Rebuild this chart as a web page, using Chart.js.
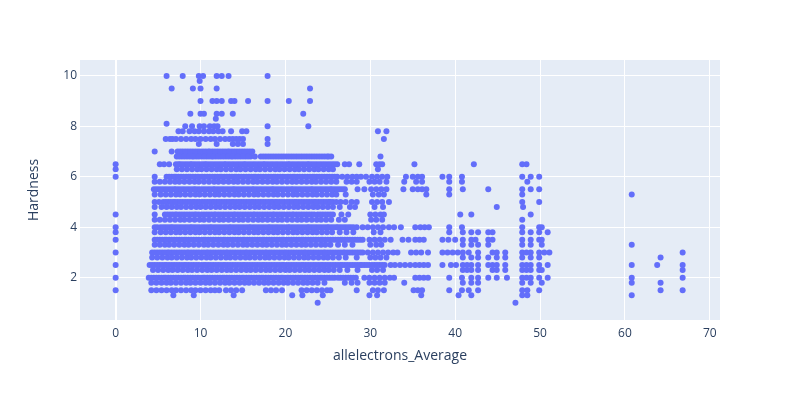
<!DOCTYPE html>
<html>
<head>
<meta charset="utf-8">
<script src="https://cdn.jsdelivr.net/npm/chart.js@4.4.1/dist/chart.umd.min.js"></script>
<style>
html,body{margin:0;padding:0;background:#fff;}
canvas{display:block;}
</style>
</head>
<body>
<canvas id="c" width="800" height="400"></canvas>
<script>
// Tick labels
const xTickValues = [0, 10, 20, 30, 40, 50, 60, 70];
const yTickValues = [2, 4, 6, 8, 10];

// Hardness levels and the allelectrons_Average values read at each level
const hardnessLevels = [10, 9.8, 9.5, 9.0, 8.5, 8.3, 8.1, 8.0, 7.8, 7.5, 7.3, 7.0, 6.8, 6.5, 6.3, 6.0, 5.8, 5.5, 5.3, 5.0, 4.8, 4.5, 4.3, 4.0, 3.8, 3.5, 3.3, 3.0, 2.8, 2.5, 2.3, 2.0, 1.8, 1.5, 1.3, 1.0];

const x_10_0 = [6.0, 7.9, 9.8, 10.3, 11.9, 12.5, 13.3, 17.9];
const x_9_8 = [9.9];
const x_9_5 = [6.6, 9.1, 10.0, 11.9, 22.9];
const x_9_0 = [10.0, 11.4, 11.9, 12.5, 13.6, 14.0, 15.6, 17.9, 20.4, 22.9];
const x_8_5 = [8.8, 10.0, 10.4, 11.9, 12.5, 13.8, 22.1];
const x_8_3 = [11.8];
const x_8_1 = [6.0];
const x_8_0 = [8.2, 9.0, 9.9, 10.4, 11.1, 11.6, 12.0, 17.9, 22.7];
const x_7_8 = [7.4, 7.9, 8.7, 9.3, 9.8, 10.4, 11.0, 11.5, 12.1, 12.6, 13.6, 14.9, 15.4, 30.9, 31.9];
const x_7_5 = [5.9, 6.4, 6.7, 7.1, 7.7, 8.3, 8.9, 9.4, 10.0, 10.6, 11.2, 11.7, 12.3, 12.9, 13.4, 13.8, 14.2, 14.6, 15.0, 17.9, 31.6];
const x_7_3 = [9.8, 11.9, 13.8, 14.4, 15.0, 17.9];
const x_7_0 = [4.6, 6.6, 7.3, 7.9, 8.5, 9.1, 9.7, 10.3, 10.9, 11.4, 12.0, 12.6, 13.2, 13.7, 14.3, 14.9, 15.5, 16.1];
const x_6_8 = [7.2, 7.8, 8.4, 9.0, 9.5, 10.1, 10.7, 11.3, 11.8, 12.4, 13.0, 13.6, 14.1, 14.7, 15.3, 15.9, 16.4, 17.1, 17.7, 18.3, 18.9, 19.5, 20.1, 20.7, 21.3, 21.9, 22.5, 23.1, 23.7, 24.3, 24.9, 25.4, 31.2];
const x_6_5 = [0, 5.2, 5.7, 6.3, 7.1, 7.6, 8.2, 8.8, 9.3, 9.9, 10.5, 11.0, 11.6, 12.2, 12.8, 13.3, 13.9, 14.5, 15.1, 15.6, 16.2, 16.8, 17.4, 17.9, 18.5, 19.1, 19.7, 20.3, 20.8, 21.4, 22.0, 22.6, 23.1, 23.7, 24.3, 24.9, 25.5, 26.1, 27.0, 27.5, 28.7, 30.7, 31.1, 31.4, 35.2, 42.2, 47.9, 48.4];
const x_6_3 = [0, 7.2, 7.8, 8.4, 9.0, 9.6, 10.1, 10.7, 11.3, 11.9, 12.4, 13.0, 13.6, 14.2, 14.7, 15.3, 15.9, 16.5, 17.0, 17.6, 18.2, 18.8, 19.3, 19.9, 20.5, 21.1, 21.6, 22.2, 22.8, 23.4, 23.9, 24.5, 25.1, 25.6, 30.9];
const x_6_0 = [0, 4.6, 6.0, 6.6, 7.1, 7.7, 8.3, 8.8, 9.4, 10.0, 10.5, 11.1, 11.7, 12.3, 12.8, 13.4, 14.0, 14.5, 15.1, 15.7, 16.3, 16.8, 17.4, 18.0, 18.6, 19.1, 19.7, 20.3, 20.9, 21.4, 22.0, 22.6, 23.2, 23.7, 24.3, 24.9, 25.5, 26.1, 26.7, 27.3, 27.9, 28.4, 28.9, 29.5, 30.2, 30.8, 31.4, 32.0, 34.2, 35.0, 35.6, 36.1, 38.5, 39.3, 40.8, 47.9, 48.9, 49.9];
const x_5_8 = [4.6, 5.2, 5.8, 6.4, 7.0, 7.5, 8.1, 8.7, 9.3, 9.8, 10.4, 11.0, 11.6, 12.1, 12.7, 13.3, 13.9, 14.4, 15.0, 15.6, 16.2, 16.7, 17.3, 17.9, 18.5, 19.0, 19.6, 20.2, 20.8, 21.3, 21.9, 22.5, 23.1, 23.6, 24.2, 24.8, 25.4, 26.0, 27.2, 27.8, 28.4, 29.9, 30.5, 31.1, 31.9, 34.0, 35.4, 36.1, 39.3, 40.8, 48.5];
const x_5_5 = [4.5, 5.1, 5.7, 6.3, 6.9, 7.4, 8.0, 8.6, 9.2, 9.7, 10.3, 10.9, 11.5, 12.0, 12.6, 13.2, 13.8, 14.3, 14.9, 15.5, 16.1, 16.6, 17.2, 17.8, 18.4, 18.9, 19.5, 20.1, 20.7, 21.2, 21.8, 22.4, 23.0, 23.5, 24.1, 24.7, 25.3, 25.8, 26.4, 27.0, 28.5, 29.3, 30.1, 30.7, 31.3, 31.9, 33.9, 35.0, 35.6, 36.1, 36.6, 39.3, 40.9, 43.9, 47.9, 48.9, 49.9];
const x_5_3 = [4.6, 5.3, 5.9, 6.5, 7.1, 7.6, 8.2, 8.8, 9.4, 9.9, 10.5, 11.1, 11.7, 12.2, 12.8, 13.4, 14.0, 14.5, 15.1, 15.7, 16.3, 16.8, 17.4, 18.0, 18.6, 19.1, 19.7, 20.3, 20.9, 21.4, 22.0, 22.6, 23.2, 23.7, 24.3, 24.9, 25.5, 26.0, 27.1, 30.3, 31.0, 31.6, 36.6, 39.3, 47.9, 60.8];
const x_5_0 = [4.6, 5.6, 6.2, 6.8, 7.3, 7.9, 8.5, 9.1, 9.6, 10.2, 10.8, 11.4, 11.9, 12.5, 13.1, 13.7, 14.2, 14.8, 15.4, 16.0, 16.5, 17.1, 17.7, 18.3, 18.8, 19.3, 19.9, 20.5, 21.1, 21.6, 22.2, 22.8, 23.4, 23.9, 24.5, 25.1, 25.6, 26.5, 27.1, 27.8, 28.4, 30.2, 30.8, 31.4, 32.2, 47.9, 49.9];
const x_4_8 = [4.6, 5.4, 6.0, 6.6, 7.2, 7.7, 8.3, 8.9, 9.5, 10.0, 10.6, 11.2, 11.8, 12.3, 12.9, 13.5, 14.1, 14.6, 15.2, 15.8, 16.4, 16.9, 17.5, 18.1, 18.7, 19.2, 19.8, 20.4, 21.0, 21.5, 22.1, 22.7, 23.3, 23.8, 24.4, 25.0, 25.6, 26.4, 27.6, 28.2, 30.5, 31.5, 44.9, 48.0];
const x_4_5 = [0, 4.6, 5.8, 6.4, 7.0, 7.5, 8.1, 8.7, 9.3, 9.8, 10.4, 11.0, 11.6, 12.1, 12.7, 13.3, 13.9, 14.4, 15.0, 15.6, 16.2, 16.7, 17.3, 17.9, 18.5, 19.0, 19.6, 20.2, 20.8, 21.3, 21.9, 22.5, 23.1, 23.8, 24.4, 25.0, 25.6, 26.6, 27.4, 30.0, 30.6, 31.2, 31.6, 40.6, 41.9, 48.9];
const x_4_3 = [4.6, 5.2, 5.8, 6.4, 7.0, 7.6, 8.1, 8.7, 9.3, 9.9, 10.4, 11.0, 11.6, 12.2, 12.7, 13.3, 13.9, 14.5, 15.0, 15.6, 16.2, 16.8, 17.3, 17.9, 18.5, 19.1, 19.6, 20.2, 20.8, 21.4, 21.9, 22.5, 23.1, 23.7, 24.2, 24.8, 25.4, 26.3, 27.0, 30.1, 30.7, 31.4, 47.9];
const x_4_0 = [0, 4.6, 5.3, 5.9, 6.5, 7.0, 7.6, 8.2, 8.8, 9.3, 9.9, 10.5, 11.1, 11.6, 12.2, 12.8, 13.4, 13.9, 14.5, 15.1, 15.7, 16.2, 16.8, 17.4, 18.0, 18.5, 19.1, 19.7, 20.3, 20.8, 21.4, 22.0, 22.6, 23.1, 23.7, 24.3, 24.9, 25.4, 26.0, 26.5, 27.1, 27.7, 28.4, 29.1, 29.7, 30.3, 30.9, 31.5, 32.2, 32.8, 33.6, 35.3, 35.9, 36.4, 36.9, 39.3, 40.8, 47.9, 49.9, 50.2];
const x_3_8 = [0, 4.6, 5.3, 5.9, 6.5, 7.1, 7.6, 8.2, 8.8, 9.4, 9.9, 10.5, 11.1, 11.7, 12.2, 12.8, 13.4, 14.0, 14.5, 15.1, 15.7, 16.3, 16.8, 17.4, 18.0, 18.6, 19.1, 19.7, 20.3, 20.9, 21.4, 22.0, 22.6, 23.2, 23.7, 24.3, 24.9, 25.5, 26.4, 27.2, 28.0, 30.4, 31.2, 39.3, 40.9, 41.9, 42.7, 43.9, 44.4, 47.9, 48.9, 49.9, 50.9];
const x_3_5 = [0, 4.6, 5.2, 5.8, 6.3, 6.9, 7.5, 8.1, 8.6, 9.2, 9.8, 10.4, 10.9, 11.5, 12.1, 12.7, 13.2, 13.8, 14.4, 15.0, 15.5, 16.1, 16.7, 17.3, 17.8, 18.4, 19.0, 19.6, 20.1, 20.7, 21.3, 21.9, 22.4, 23.0, 23.6, 24.2, 24.7, 25.3, 25.9, 26.5, 27.0, 27.6, 28.2, 28.8, 29.1, 29.9, 30.5, 31.1, 31.7, 32.4, 33.8, 34.5, 35.3, 35.8, 36.3, 38.5, 39.2, 40.0, 40.9, 41.9, 42.4, 43.9, 44.4, 47.9, 48.9, 49.9, 50.2];
const x_3_3 = [4.6, 5.2, 5.8, 6.3, 6.9, 7.5, 8.1, 8.6, 9.2, 9.8, 10.4, 10.9, 11.5, 12.1, 12.7, 13.2, 13.8, 14.4, 15.0, 15.5, 16.1, 16.7, 17.3, 17.8, 18.4, 19.0, 19.6, 20.1, 20.7, 21.3, 21.9, 22.4, 23.0, 23.6, 24.2, 24.7, 25.3, 26.2, 27.0, 27.9, 30.0, 30.7, 31.3, 40.9, 41.9, 42.7, 43.9, 47.9, 48.9, 50.2, 60.8];
const x_3_0 = [0, 4.3, 4.9, 5.5, 6.1, 6.6, 7.2, 7.8, 8.4, 8.9, 9.5, 10.1, 10.7, 11.2, 11.8, 12.4, 13.0, 13.5, 14.1, 14.7, 15.3, 15.8, 16.4, 17.0, 17.6, 18.1, 18.7, 19.3, 19.9, 20.4, 21.0, 21.6, 22.2, 22.7, 23.3, 23.9, 24.5, 25.0, 25.6, 26.2, 26.8, 27.3, 27.9, 28.5, 29.1, 29.7, 30.3, 30.9, 31.5, 32.1, 32.7, 33.2, 34.8, 35.4, 36.0, 36.8, 38.5, 39.1, 39.7, 40.3, 40.9, 41.6, 42.7, 44.4, 44.9, 45.9, 47.9, 48.4, 48.9, 49.9, 50.5, 51.1, 66.8];
const x_2_8 = [4.3, 4.9, 5.5, 6.1, 6.6, 7.2, 7.8, 8.4, 8.9, 9.5, 10.1, 10.7, 11.2, 11.8, 12.4, 13.0, 13.5, 14.1, 14.7, 15.3, 15.8, 16.4, 17.0, 17.6, 18.1, 18.7, 19.3, 19.9, 20.4, 21.0, 21.6, 22.2, 22.7, 23.3, 23.9, 24.5, 25.0, 25.6, 26.3, 27.1, 28.4, 30.0, 30.6, 31.2, 31.9, 40.9, 41.9, 42.7, 43.9, 44.9, 45.9, 47.9, 48.9, 49.9, 64.2];
const x_2_5 = [0, 4.0, 4.6, 5.2, 5.8, 6.3, 6.9, 7.5, 8.1, 8.6, 9.2, 9.8, 10.4, 10.9, 11.5, 12.1, 12.7, 13.2, 13.8, 14.4, 15.0, 15.5, 16.1, 16.7, 17.3, 17.8, 18.4, 19.0, 19.6, 20.1, 20.7, 21.3, 21.9, 22.4, 23.0, 23.6, 24.2, 24.7, 25.3, 25.9, 26.5, 27.0, 27.6, 28.2, 28.8, 29.3, 29.9, 30.5, 31.1, 31.7, 32.4, 32.9, 33.5, 34.1, 34.7, 35.3, 35.8, 36.3, 36.8, 38.5, 39.5, 40.1, 40.9, 41.4, 41.9, 42.7, 43.9, 44.4, 44.9, 45.9, 47.9, 48.4, 48.9, 49.9, 50.9, 60.8, 63.8, 66.8];
const x_2_3 = [4.4, 5.0, 5.6, 6.2, 6.7, 7.3, 7.9, 8.5, 9.0, 9.6, 10.2, 10.8, 11.3, 11.9, 12.5, 13.1, 13.6, 14.2, 14.8, 15.4, 15.9, 16.5, 17.1, 17.7, 18.2, 18.8, 19.4, 20.0, 20.5, 21.1, 21.7, 22.3, 22.8, 23.4, 24.0, 24.6, 25.1, 25.7, 26.4, 27.3, 28.5, 30.2, 30.8, 31.5, 40.9, 41.4, 41.9, 42.7, 44.4, 44.9, 45.9, 47.9, 48.4, 48.9, 49.9, 50.2, 66.8];
const x_2_0 = [0, 3.9, 4.5, 5.1, 5.7, 6.2, 6.8, 7.4, 8.0, 8.5, 9.1, 9.7, 10.3, 10.8, 11.4, 12.0, 12.6, 13.1, 13.7, 14.3, 14.9, 15.4, 16.0, 16.6, 17.2, 17.7, 18.3, 18.9, 19.5, 20.0, 20.6, 21.2, 21.8, 22.3, 22.9, 23.5, 24.1, 24.6, 25.2, 25.8, 26.5, 27.1, 27.7, 28.3, 29.3, 29.9, 30.5, 31.1, 31.7, 32.3, 32.8, 35.3, 35.8, 36.3, 36.8, 39.3, 40.8, 41.9, 42.7, 43.9, 44.9, 46.1, 47.9, 48.4, 48.9, 49.9, 50.9, 60.8, 66.8];
const x_1_8 = [4.2, 4.8, 5.4, 6.0, 6.5, 7.1, 7.7, 8.3, 8.8, 9.4, 10.0, 10.6, 11.1, 11.7, 12.3, 12.9, 13.4, 14.0, 14.6, 15.2, 15.7, 16.3, 16.9, 17.5, 18.0, 18.6, 19.2, 19.8, 20.3, 20.9, 21.5, 22.1, 22.6, 23.2, 23.8, 24.6, 27.0, 27.8, 28.5, 29.9, 30.5, 31.1, 31.7, 34.0, 40.9, 41.9, 42.7, 47.9, 48.9, 50.2, 60.8, 64.2];
const x_1_5 = [0, 4.2, 4.8, 5.4, 6.0, 6.6, 7.1, 7.7, 8.3, 8.9, 9.4, 10.0, 10.6, 11.2, 11.7, 12.2, 13.0, 13.6, 14.2, 14.9, 17.7, 18.3, 18.9, 19.6, 21.9, 22.5, 23.1, 23.7, 24.3, 24.9, 25.3, 28.4, 30.3, 30.9, 31.6, 35.1, 35.6, 36.1, 39.3, 40.8, 41.6, 42.7, 47.9, 48.5, 49.9, 64.2, 66.8];
const x_1_3 = [6.8, 9.2, 13.9, 20.8, 22.0, 24.4, 29.9, 30.8, 36.0, 40.4, 41.9, 47.9, 48.5, 60.8];
const x_1_0 = [23.8, 47.1];

// further samples on the crowded main rows (values between the ones above)
const crowdedLevels = [7.0, 6.8, 6.5, 6.0, 5.5, 5.0, 4.5, 4.0, 3.5, 3.0, 2.5, 2.0];
const m_7_0 = [7.6, 8.2, 8.8, 9.4, 10.0, 10.6, 11.1, 11.7, 12.3, 12.9, 13.4, 14.0, 14.6, 15.2, 15.8];
const m_6_8 = [7.5, 8.1, 8.7, 9.2, 9.8, 10.4, 11.0, 11.5, 12.1, 12.7, 13.3, 13.8, 14.4, 15.0, 15.6, 17.4, 18.0, 18.6, 19.2, 19.8, 20.4, 21.0, 21.6, 22.2, 22.8, 23.4, 24.0, 24.6, 25.1];
const m_6_5 = [7.4, 7.9, 8.5, 9.0, 9.6, 10.2, 10.7, 11.3, 11.9, 12.5, 13.0, 13.6, 14.2, 14.8, 15.3, 15.9, 16.5, 17.1, 17.6, 18.2, 18.8, 19.4, 20.0, 20.5, 21.1, 21.7, 22.3, 22.8, 23.4, 24.0, 24.6, 25.2, 25.8];
const m_6_0 = [6.3, 6.9, 7.4, 8.0, 8.6, 9.1, 9.7, 10.2, 10.8, 11.4, 12.0, 12.5, 13.1, 13.7, 14.2, 14.8, 15.4, 16.0, 16.5, 17.1, 17.7, 18.3, 18.8, 19.4, 20.0, 20.6, 21.1, 21.7, 22.3, 22.9, 23.4, 24.0, 24.6, 25.2, 25.8];
const m_5_5 = [4.8, 5.4, 6.0, 6.6, 7.1, 7.7, 8.3, 8.9, 9.4, 10.0, 10.6, 11.2, 11.7, 12.3, 12.9, 13.5, 14.0, 14.6, 15.2, 15.8, 16.3, 16.9, 17.5, 18.1, 18.6, 19.2, 19.8, 20.4, 20.9, 21.5, 22.1, 22.7, 23.2, 23.8, 24.4, 25.0, 25.5, 26.1, 26.7];
const m_5_0 = [5.1, 5.9, 6.5, 7.0, 7.6, 8.2, 8.8, 9.3, 9.9, 10.5, 11.1, 11.6, 12.2, 12.8, 13.4, 13.9, 14.5, 15.1, 15.7, 16.2, 16.8, 17.4, 18.0, 18.5, 19.0, 19.6, 20.2, 20.8, 21.3, 21.9, 22.5, 23.1, 23.6, 24.2, 24.8, 25.3, 26.0];
const m_4_5 = [6.1, 6.7, 7.2, 7.8, 8.4, 9.0, 9.5, 10.1, 10.7, 11.3, 11.8, 12.4, 13.0, 13.6, 14.1, 14.7, 15.3, 15.9, 16.4, 17.0, 17.6, 18.2, 18.7, 19.3, 19.9, 20.5, 21.0, 21.6, 22.2, 22.8, 23.4, 24.1, 24.7, 25.3];
const m_4_0 = [4.9, 5.6, 6.2, 6.7, 7.3, 7.9, 8.5, 9.0, 9.6, 10.2, 10.8, 11.3, 11.9, 12.5, 13.1, 13.6, 14.2, 14.8, 15.4, 15.9, 16.5, 17.1, 17.7, 18.2, 18.8, 19.4, 20.0, 20.5, 21.1, 21.7, 22.3, 22.8, 23.4, 24.0, 24.6, 25.1, 25.7, 26.2, 26.8, 27.4, 28.0];
const m_3_5 = [4.9, 5.5, 6.0, 6.6, 7.2, 7.8, 8.3, 8.9, 9.5, 10.1, 10.6, 11.2, 11.8, 12.4, 12.9, 13.5, 14.1, 14.7, 15.2, 15.8, 16.4, 17.0, 17.5, 18.1, 18.7, 19.3, 19.8, 20.4, 21.0, 21.6, 22.1, 22.7, 23.3, 23.9, 24.4, 25.0, 25.6, 26.2, 26.7, 27.3, 27.9, 28.5];
const m_3_0 = [4.6, 5.2, 5.8, 6.3, 6.9, 7.5, 8.1, 8.6, 9.2, 9.8, 10.4, 10.9, 11.5, 12.1, 12.7, 13.2, 13.8, 14.4, 15.0, 15.5, 16.1, 16.7, 17.3, 17.8, 18.4, 19.0, 19.6, 20.1, 20.7, 21.3, 21.9, 22.4, 23.0, 23.6, 24.2, 24.7, 25.3, 25.9, 26.5, 27.0, 27.6, 28.2, 28.8];
const m_2_5 = [4.3, 4.9, 5.5, 6.0, 6.6, 7.2, 7.8, 8.3, 8.9, 9.5, 10.1, 10.6, 11.2, 11.8, 12.4, 12.9, 13.5, 14.1, 14.7, 15.2, 15.8, 16.4, 17.0, 17.5, 18.1, 18.7, 19.3, 19.8, 20.4, 21.0, 21.6, 22.1, 22.7, 23.3, 23.9, 24.4, 25.0, 25.6, 26.2, 26.7, 27.3, 27.9, 28.5, 29.0, 29.6, 30.2, 30.8, 31.4];
const m_2_0 = [4.2, 4.8, 5.4, 5.9, 6.5, 7.1, 7.7, 8.2, 8.8, 9.4, 10.0, 10.5, 11.1, 11.7, 12.3, 12.8, 13.4, 14.0, 14.6, 15.1, 15.7, 16.3, 16.9, 17.4, 18.0, 18.6, 19.2, 19.7, 20.3, 20.9, 21.5, 22.0, 22.6, 23.2, 23.8, 24.3, 24.9, 25.5, 26.2, 26.8, 27.4, 28.0];

const xAtLevel = [x_10_0, x_9_8, x_9_5, x_9_0, x_8_5, x_8_3, x_8_1, x_8_0, x_7_8, x_7_5, x_7_3, x_7_0, x_6_8, x_6_5, x_6_3, x_6_0, x_5_8, x_5_5, x_5_3, x_5_0, x_4_8, x_4_5, x_4_3, x_4_0, x_3_8, x_3_5, x_3_3, x_3_0, x_2_8, x_2_5, x_2_3, x_2_0, x_1_8, x_1_5, x_1_3, x_1_0];
const xAtCrowded = [m_7_0, m_6_8, m_6_5, m_6_0, m_5_5, m_5_0, m_4_5, m_4_0, m_3_5, m_3_0, m_2_5, m_2_0];

const points = [];
hardnessLevels.forEach((h, i) => {
  xAtLevel[i].forEach(x => points.push({x: x, y: h}));
});
crowdedLevels.forEach((h, i) => {
  xAtCrowded[i].forEach(x => points.push({x: x, y: h}));
});

const FONT = "'Open Sans', verdana, arial, sans-serif";
const TEXT = '#2a3f5f';

const plotBg = {
  id: 'plotBg',
  beforeDraw(chart) {
    const {ctx, chartArea: a} = chart;
    ctx.save();
    ctx.fillStyle = '#E5ECF6';
    ctx.fillRect(a.left, a.top, a.right - a.left, a.bottom - a.top);
    ctx.restore();
  }
};

new Chart(document.getElementById('c'), {
  type: 'scatter',
  data: {
    datasets: [{
      data: points,
      backgroundColor: '#636efa',
      borderWidth: 0,
      pointRadius: 3,
      pointHoverRadius: 3
    }]
  },
  options: {
    responsive: false,
    animation: false,
    layout: {padding: {top: 60, right: 80, left: 0, bottom: 0}},
    plugins: {legend: {display: false}, tooltip: {enabled: false}},
    scales: {
      x: {
        type: 'linear',
        min: -4.2,
        max: 71.2,
        afterFit(s) { s.height = 80; },
        afterBuildTicks(s) { s.ticks = xTickValues.map(v => ({value: v})); },
        grid: {color: '#ffffff', lineWidth: c => (c.tick && c.tick.value === 0 ? 2 : 1), drawTicks: false},
        border: {display: false},
        ticks: {color: TEXT, font: {family: FONT, size: 12}, padding: 6, maxRotation: 0},
        title: {display: true, text: 'allelectrons_Average', color: TEXT, font: {family: FONT, size: 14}, padding: {top: 0, bottom: 36}}
      },
      y: {
        type: 'linear',
        min: 0.32,
        max: 10.63,
        afterFit(s) { s.width = 80; },
        afterBuildTicks(s) { s.ticks = yTickValues.map(v => ({value: v})); },
        grid: {color: '#ffffff', lineWidth: 1, drawTicks: false},
        border: {display: false},
        ticks: {color: TEXT, font: {family: FONT, size: 12}, padding: 3},
        title: {display: true, text: 'Hardness', color: TEXT, font: {family: FONT, size: 14}, padding: {top: 26, bottom: 0}}
      }
    }
  },
  plugins: [plotBg]
});
</script>
</body>
</html>
